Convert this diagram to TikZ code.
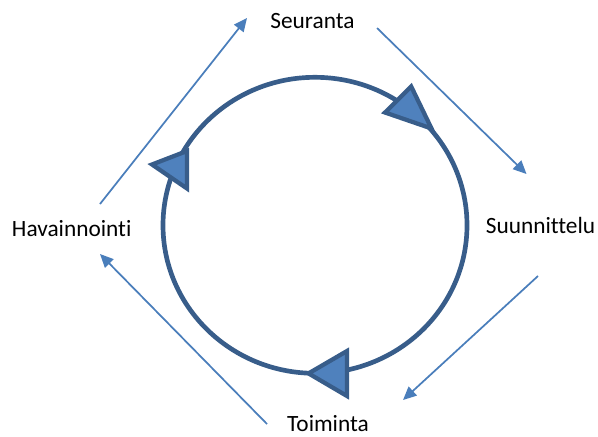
\documentclass[tikz,border=0pt]{standalone}
\usepackage{fontspec}
\setmainfont[Ligatures=NoCommon]{Carlito}
\usetikzlibrary{arrows.meta}

\definecolor{ringline}{HTML}{385D8A}
\definecolor{ringfill}{HTML}{4F81BD}
\definecolor{flowblue}{HTML}{4A7EBB}

\tikzset{
  phase/.style={font=\fontsize{17.5}{21}\selectfont, anchor=base, inner sep=0pt},
  ring/.style={draw=ringline, line width=3.5pt},
  ringhead/.style={draw=ringline, fill=ringfill, line width=3.2pt},
  flow/.style={draw=flowblue, line width=1.3pt, -{Triangle[length=10pt,width=9pt]}}
}

\begin{document}
\begin{tikzpicture}[x=0.75pt, y=-0.75pt]
\useasboundingbox (0,0) rectangle (598,436);

% the cycle ring
\draw[ring] (315,225.3) ellipse [x radius=152, y radius=148];

% arrow heads sitting on the ring
\filldraw[ringhead] (411.2,86.5) -- (385,112.5) -- (431.5,128.5) -- cycle;
\filldraw[ringhead] (152,164.5) -- (187,151) -- (187,188.5) -- cycle;
\filldraw[ringhead] (308.5,373.4) -- (347,351) -- (347,396) -- cycle;

% phase names
\node[phase] (seu) at (312.5,28) {Seuranta};
\node[phase] (suu) at (540.5,233.3) {Suunnittelu};
\node[phase] (toi) at (328,431.5) {Toiminta};
\node[phase] (hav) at (71.7,236.7) {Havainnointi};

% ends of the outer arrows
\coordinate (hav-out) at (100,204);
\coordinate (seu-in) at (247,18);
\coordinate (seu-out) at (377,28);
\coordinate (suu-in) at (526.5,174);
\coordinate (suu-out) at (538,276);
\coordinate (toi-in) at (403,400);
\coordinate (toi-out) at (267,424);
\coordinate (hav-in) at (100,254);

% outer arrows, clockwise
\draw[flow] (hav-out) -- (seu-in);
\draw[flow] (seu-out) -- (suu-in);
\draw[flow] (suu-out) -- (toi-in);
\draw[flow] (toi-out) -- (hav-in);

\end{tikzpicture}
\end{document}
